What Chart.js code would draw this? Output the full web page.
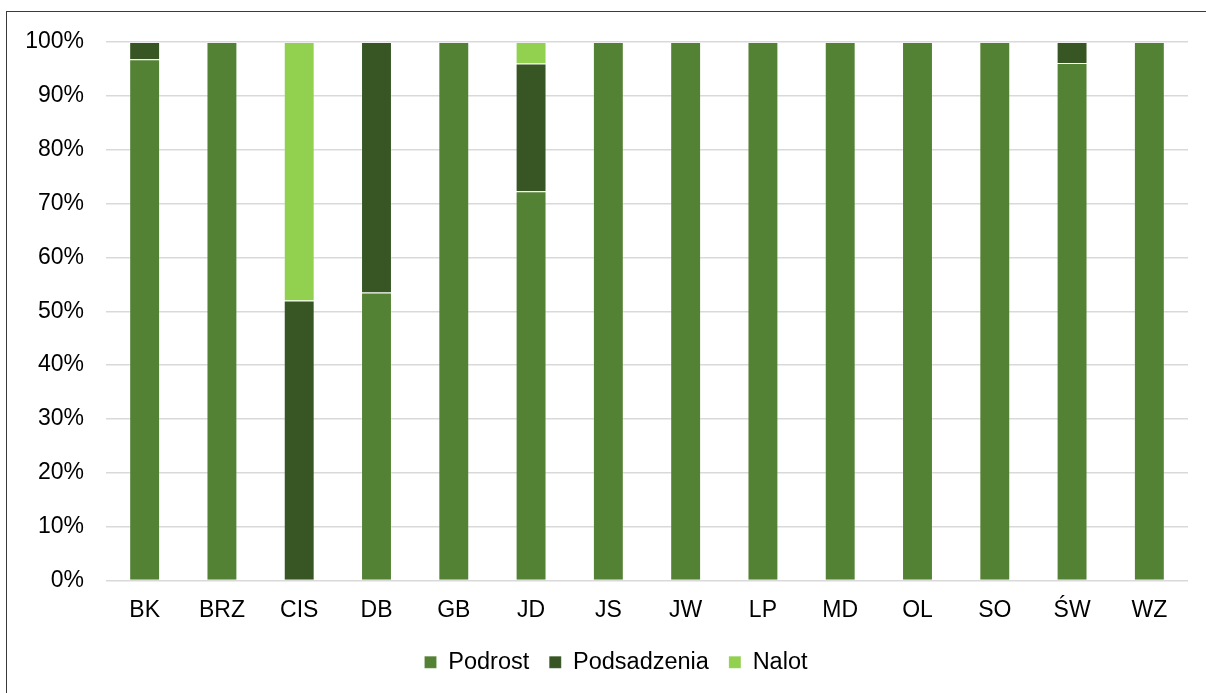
<!DOCTYPE html>
<html>
<head>
<meta charset="utf-8">
<script src="https://cdn.jsdelivr.net/npm/chart.js@4.4.1/dist/chart.umd.min.js"></script>
<style>
  html, body { margin: 0; padding: 0; background: #fff; }
  #wrap { position: relative; width: 1206px; height: 693px; overflow: hidden; }
  #frame { position: absolute; left: 6px; top: 11px; width: 1220px; height: 720px; border: 1.5px solid #3a3a3a; box-sizing: border-box; }
  canvas { position: absolute; left: 0; top: 0; }
</style>
</head>
<body>
<div id="wrap">
  <div id="frame"></div>
  <canvas id="chart" width="1206" height="693"></canvas>
</div>
<script>
const categories = ['BK', 'BRZ', 'CIS', 'DB', 'GB', 'JD', 'JS', 'JW', 'LP', 'MD', 'OL', 'SO', 'ŚW', 'WZ'];
const podrost     = [96.8, 100, 0,  53.5, 100, 72.3, 100, 100, 100, 100, 100, 100, 96.1, 100];
const podsadzenia = [3.2,  0,   52, 46.5, 0,   23.7, 0,   0,   0,   0,   0,   0,   3.9,  0];
const nalot       = [0,    0,   48, 0,    0,   4.0,  0,   0,   0,   0,   0,   0,   0,    0];

Chart.defaults.font.family = '"Liberation Sans", Arial, sans-serif';
Chart.defaults.color = '#000';

const edge = 'rgba(255,255,255,0.15)';

// nudge the legend to the right, like the original
const legendShift = {
    id: 'legendShift',
    afterLayout(chart) {
        chart.legend.left += 22;
        chart.legend.right += 22;
    }
};

new Chart(document.getElementById('chart').getContext('2d'), {
    type: 'bar',
    data: {
        labels: categories,
        datasets: [
            { label: 'Podrost', data: podrost, backgroundColor: '#548235', borderColor: edge, borderWidth: 1 },
            { label: 'Podsadzenia', data: podsadzenia, backgroundColor: '#375623', borderColor: edge, borderWidth: 1 },
            { label: 'Nalot', data: nalot, backgroundColor: '#92D050', borderColor: edge, borderWidth: 1 }
        ]
    },
    options: {
        responsive: false,
        animation: false,
        layout: { padding: { top: 42, right: 18, left: 0, bottom: 9 } },
        datasets: { bar: { barPercentage: 0.4, categoryPercentage: 1 } },
        scales: {
            x: {
                stacked: true,
                grid: { display: false, drawTicks: false },
                border: { display: false },
                ticks: { font: { size: 23 }, padding: 16 },
                afterFit: s => { s.height = 50; }
            },
            y: {
                stacked: true,
                min: 0,
                max: 100,
                grid: { color: '#D9D9D9', lineWidth: 1.5, drawTicks: false },
                border: { display: false },
                ticks: { stepSize: 10, padding: 22, font: { size: 23 }, callback: v => v + '%' },
                afterFit: s => { s.width = 106; }
            }
        },
        plugins: {
            tooltip: { enabled: false },
            legend: {
                position: 'bottom',
                labels: { boxWidth: 12, boxHeight: 12, padding: 20, font: { size: 23.5 } }
            }
        }
    },
    plugins: [legendShift]
});
</script>
</body>
</html>
